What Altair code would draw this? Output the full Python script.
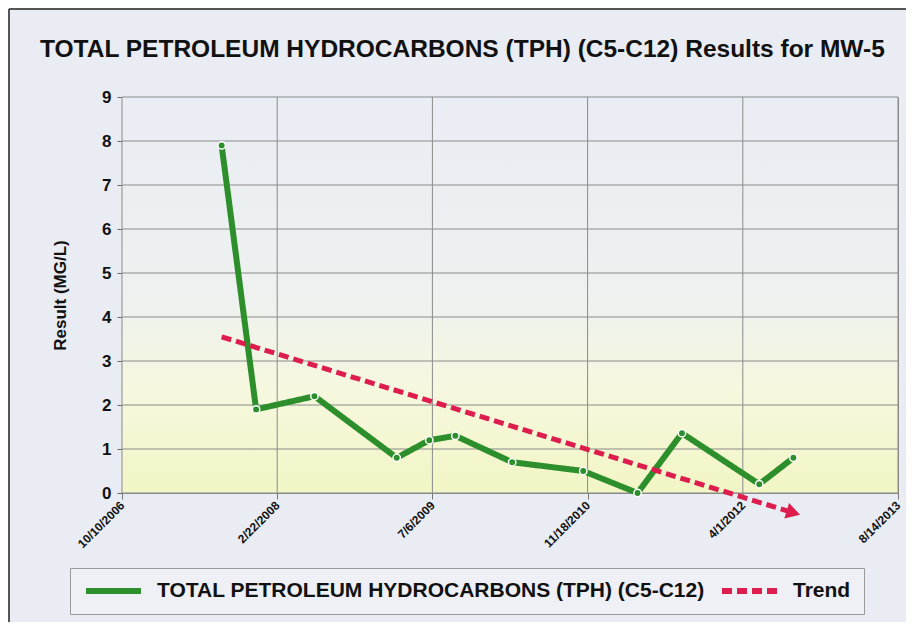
import altair as alt
import pandas as pd

# ---- data ----
sample_dates = ["2007-08-27", "2007-12-16", "2008-06-21", "2009-03-13", "2009-06-26",
                "2009-09-18", "2010-03-20", "2010-11-04", "2011-04-28", "2011-09-18",
                "2012-05-24", "2012-09-11"]
tph_values = [7.9, 1.9, 2.2, 0.8, 1.2, 1.3, 0.7, 0.5, 0.0, 1.36, 0.2, 0.8]

trend_dates = ["2007-08-27", "2012-09-11"]
trend_values = [3.55, -0.45]

tick_dates = ["2006-10-10", "2008-02-22", "2009-07-06", "2010-11-18", "2012-04-01", "2013-08-14"]
y_ticks = [0, 1, 2, 3, 4, 5, 6, 7, 8, 9]

SERIES = "TOTAL PETROLEUM HYDROCARBONS (TPH) (C5-C12)"
TREND = "Trend"
TITLE = "TOTAL PETROLEUM HYDROCARBONS (TPH) (C5-C12) Results for MW-5"

W, H = 776, 396
FONT = "Liberation Sans"
GREEN = "#2d8f2b"
RED = "#dc1d4d"

df = pd.DataFrame({"date": pd.to_datetime(sample_dates), "value": tph_values, "series": SERIES})
tr = pd.DataFrame({"date": pd.to_datetime(trend_dates), "value": trend_values, "series": TREND})
gx = pd.DataFrame({"date": pd.to_datetime(tick_dates)})
gy = pd.DataFrame({"value": y_ticks})


def dt(s):
    y, m, d = (int(p) for p in s.split("-"))
    return alt.DateTime(year=y, month=m, date=d)


xscale = alt.Scale(domain=[dt(tick_dates[0]), dt(tick_dates[-1])])
yscale = alt.Scale(domain=[0, 9])

xaxis = alt.Axis(values=[dt(s) for s in tick_dates], format="%-m/%-d/%Y", labelAngle=-45,
                 labelAlign="right", labelBaseline="middle", labelFontSize=12,
                 labelFontWeight="bold", labelFont=FONT, labelColor="#111", title=None,
                 grid=False, domain=False, tickColor="#777", tickSize=6, labelPadding=4)
yaxis = alt.Axis(values=y_ticks, labelFontSize=17, labelFontWeight="bold", labelFont=FONT,
                 labelColor="#111", title="Result (MG/L)", titleFontSize=17,
                 titleFontWeight="bold", titleFont=FONT, titleColor="#111", titlePadding=32,
                 grid=False, domainColor="#666", tickColor="#666", tickSize=5, labelPadding=6)

bg = alt.Chart(pd.DataFrame({"a": [0]})).mark_rect(
    color=alt.Gradient(gradient="linear", x1=0, x2=0, y1=0, y2=1,
                       stops=[alt.GradientStop(offset=0, color="#e9edf4"),
                              alt.GradientStop(offset=0.5, color="#eef1ef"),
                              alt.GradientStop(offset=0.75, color="#f6f8de"),
                              alt.GradientStop(offset=1, color="#f2f5c4")])
).encode(x=alt.value(0), x2=alt.value(W), y=alt.value(0), y2=alt.value(H))

# outer frame (left and top edges of the chart box)
frame_left = alt.Chart(pd.DataFrame({"a": [0]})).mark_rule(color="#555", strokeWidth=2).encode(
    x=alt.value(-113), y=alt.value(-88), y2=alt.value(H + 129))
frame_top = alt.Chart(pd.DataFrame({"a": [0]})).mark_rule(color="#555", strokeWidth=2).encode(
    x=alt.value(-113), x2=alt.value(W + 8), y=alt.value(-88))

vgrid = alt.Chart(gx).mark_rule(color="#8a8a8a", strokeWidth=1).encode(
    x=alt.X("date:T", scale=xscale, axis=xaxis))
hgrid = alt.Chart(gy).mark_rule(color="#8a8a8a", strokeWidth=1).encode(
    y=alt.Y("value:Q", scale=yscale, axis=yaxis))

color = alt.Color("series:N", scale=alt.Scale(domain=[SERIES, TREND], range=[GREEN, RED]),
                  legend=alt.Legend(title=None, orient="none", legendX=-52, legendY=471,
                                    direction="horizontal", symbolType="stroke",
                                    symbolSize=3025, symbolStrokeWidth=6, clipHeight=20,
                                    labelFontSize=21, labelFontWeight="bold", labelFont=FONT,
                                    labelColor="#111", labelLimit=0, labelOffset=13,
                                    columnPadding=14, padding=13, strokeColor="#999",
                                    fillColor="#eef0f5"))
dash = alt.StrokeDash("series:N", scale=alt.Scale(domain=[SERIES, TREND], range=[[1, 0], [10, 5]]),
                      legend=None)

green = alt.Chart(df).mark_line(strokeWidth=6).encode(
    x=alt.X("date:T", scale=xscale), y=alt.Y("value:Q", scale=yscale),
    color=color, strokeDash=dash)
pts = alt.Chart(df).mark_point(filled=True, size=55, color=GREEN, stroke="white",
                               strokeWidth=1.5, opacity=1).encode(
    x=alt.X("date:T", scale=xscale), y=alt.Y("value:Q", scale=yscale))
trend = alt.Chart(tr).mark_line(strokeWidth=5).encode(
    x=alt.X("date:T", scale=xscale), y=alt.Y("value:Q", scale=yscale),
    color=color, strokeDash=dash)
arrow = alt.Chart(tr.tail(1)).mark_point(shape="triangle-right", filled=True, size=260,
                                         color=RED, angle=17, opacity=1).encode(
    x=alt.X("date:T", scale=xscale), y=alt.Y("value:Q", scale=yscale))

chart = alt.layer(bg, frame_left, frame_top, vgrid, hgrid, green, pts, trend, arrow).properties(
    width=W, height=H,
    title=alt.TitleParams(TITLE, anchor="start", frame="group", dx=-82, fontSize=24.5,
                          font=FONT, fontWeight="bold", color="#111", offset=-54),
    autosize=alt.AutoSizeParams(type="none"),
    padding={"left": 114, "top": 89, "right": 8, "bottom": 129},
    background="#e9ecf2",
).configure_view(stroke="#8a8a8a", strokeWidth=1)

chart.save("out.html", embed_options={"renderer": "svg", "actions": False})
